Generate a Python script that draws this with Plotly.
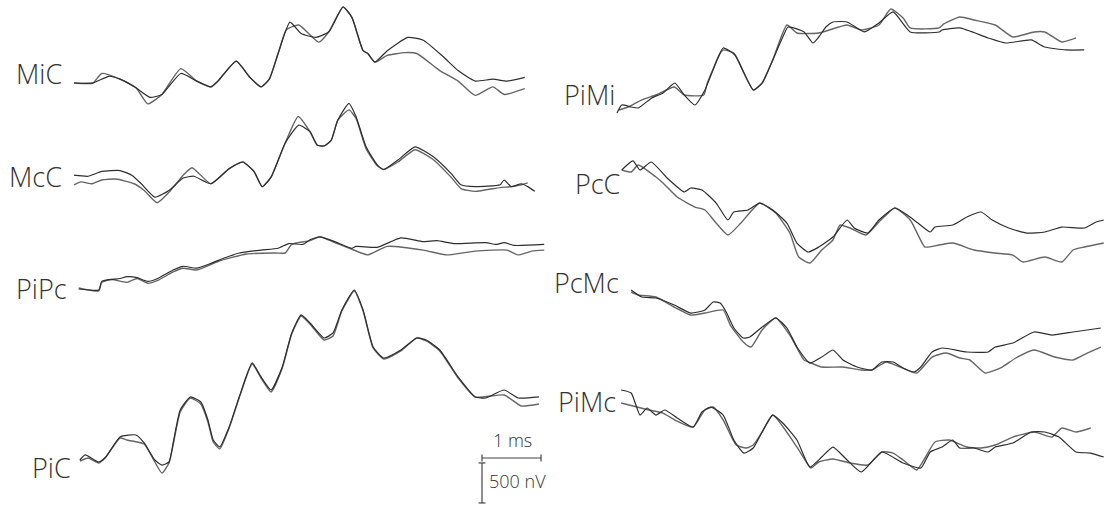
import plotly.graph_objects as go

W, H = 1105, 509
PX_PER_MS = 59.0      # horizontal scale (1 ms bar)
NV_PER_PX = 12.5      # vertical scale (500 nV bar)

# ---------------- data: time (ms) and amplitude (nV) ----------------
mic_t_a = [0, 0.32, 0.59, 0.78, 1.05, 1.29, 1.49, 1.81, 2.08, 2.32, 2.44, 2.75, 2.98, 3.17, 3.31, 3.46, 3.66, 3.85, 4.10, 4.32, 4.56, 4.71, 4.90, 4.98, 5.10, 5.31, 5.66, 5.92, 6.27, 6.51, 6.80, 7.10, 7.34, 7.64]
mic_v_a = [0, 0, 84, 48, -60, -179, -143, 119, 24, -48, 24, 274, 71, -48, 48, 369, 760, 618, 570, 641, 950, 820, 404, 369, 261, 404, 570, 535, 321, 155, 24, 48, 24, 71]
mic_t_b = [0, 0.32, 0.47, 0.78, 1.05, 1.25, 1.49, 1.81, 2.08, 2.32, 2.44, 2.75, 2.98, 3.17, 3.31, 3.46, 3.60, 3.81, 4.15, 4.32, 4.56, 4.71, 4.90, 4.98, 5.10, 5.31, 5.61, 5.81, 6.20, 6.51, 6.80, 7.10, 7.29, 7.64]
mic_v_b = [0, 0, 119, 48, -60, -261, -143, 179, 24, -48, 24, 274, 71, -48, 48, 369, 665, 725, 511, 641, 950, 820, 404, 369, 261, 345, 380, 369, 155, 24, -155, -48, -143, -71]

mcc_t_a = [0, 0.24, 0.47, 0.78, 0.98, 1.14, 1.37, 1.61, 1.85, 2.03, 2.32, 2.63, 2.86, 3.05, 3.19, 3.34, 3.58, 3.81, 4.00, 4.12, 4.24, 4.36, 4.47, 4.66, 4.78, 4.95, 5.14, 5.25, 5.49, 5.78, 6.08, 6.39, 6.56, 6.80, 7.22, 7.29, 7.41, 7.58, 7.69, 7.81]
mcc_v_a = [60, 47, 107, 118, 60, -47, -213, -131, 24, 47, -47, 142, 225, 107, -83, 36, 462, 687, 604, 438, 426, 497, 746, 959, 794, 415, 189, 131, 249, 415, 296, 83, -60, -83, -60, 0, -83, -47, -83, -142]
mcc_t_b = [0, 0.12, 0.31, 0.47, 0.71, 1.02, 1.19, 1.41, 1.61, 1.85, 2.00, 2.32, 2.63, 2.86, 3.05, 3.19, 3.34, 3.58, 3.80, 4.00, 4.12, 4.24, 4.36, 4.47, 4.66, 4.78, 4.95, 5.14, 5.25, 5.49, 5.78, 6.08, 6.39, 6.56, 6.80, 7.22, 7.41, 7.58, 7.69]
mcc_v_b = [-60, -24, -47, 0, 12, -47, -131, -284, -154, 60, 154, -47, 142, 225, 107, -83, 36, 462, 794, 604, 438, 426, 497, 746, 876, 770, 391, 178, 131, 225, 379, 260, 36, -107, -142, -95, -83, -60, -36]

pipc_t_a = [0.08, 0.42, 0.47, 0.59, 0.78, 0.90, 1.07, 1.25, 1.42, 1.68, 1.85, 2.08, 2.32, 2.56, 2.80, 3.17, 3.46, 3.64, 3.88, 4.00, 4.17, 4.42, 4.71, 4.78, 5.14, 5.54, 5.92, 6.15, 6.44, 6.98, 7.15, 7.29, 7.46, 7.97]
pipc_v_a = [0, -12, 95, 118, 131, 154, 142, 95, 131, 237, 284, 260, 320, 391, 450, 486, 509, 568, 557, 616, 652, 592, 509, 533, 521, 639, 592, 604, 568, 580, 557, 580, 545, 557]
pipc_t_b = [0.08, 0.42, 0.47, 0.64, 0.90, 1.07, 1.25, 1.42, 1.68, 1.85, 2.08, 2.44, 2.92, 3.41, 3.58, 3.69, 4.00, 4.17, 4.42, 4.71, 4.98, 5.31, 5.92, 6.32, 6.80, 7.34, 7.53, 7.76, 7.97]
pipc_v_b = [12, -24, 83, 118, 83, 131, 71, 107, 213, 260, 237, 344, 438, 450, 450, 557, 604, 652, 580, 497, 426, 533, 486, 426, 474, 486, 426, 474, 486]

pic_t_a = [0.10, 0.19, 0.42, 0.54, 0.78, 1.05, 1.19, 1.37, 1.49, 1.61, 1.69, 1.80, 1.97, 2.15, 2.27, 2.36, 2.47, 2.63, 2.80, 3.02, 3.17, 3.34, 3.53, 3.69, 3.85, 4.00, 4.24, 4.39, 4.54, 4.75, 4.90, 5.07, 5.25, 5.54, 5.81, 5.97, 6.20, 6.51, 6.80, 6.98, 7.29, 7.53, 7.88]
pic_v_a = [0, 63, -25, 38, 288, 313, 213, 0, -63, -25, 250, 625, 788, 725, 500, 250, 163, 413, 788, 1213, 1038, 875, 1163, 1588, 1813, 1713, 1525, 1588, 1875, 2125, 1875, 1413, 1275, 1375, 1525, 1500, 1375, 1038, 788, 775, 875, 775, 788]
pic_t_b = [0.10, 0.24, 0.42, 0.54, 0.78, 0.90, 1.07, 1.19, 1.37, 1.49, 1.61, 1.69, 1.80, 1.97, 2.15, 2.27, 2.36, 2.47, 2.63, 2.80, 3.02, 3.17, 3.34, 3.53, 3.69, 3.85, 4.00, 4.24, 4.39, 4.54, 4.75, 4.90, 5.07, 5.25, 5.54, 5.81, 5.97, 6.20, 6.51, 6.80, 7.29, 7.58, 7.88]
pic_v_b = [-13, 25, -38, 38, 275, 250, 225, 200, -25, -163, -38, 225, 600, 775, 700, 475, 225, 138, 400, 775, 1200, 1025, 850, 1150, 1575, 1800, 1700, 1500, 1550, 1863, 2113, 1863, 1400, 1263, 1363, 1525, 1488, 1363, 1025, 788, 813, 675, 700]

pimi_t_a = [0, 0.08, 0.24, 0.36, 0.59, 0.78, 0.98, 1.14, 1.32, 1.49, 1.71, 1.80, 2.00, 2.31, 2.46, 2.64, 2.81, 2.90, 3.17, 3.32, 3.42, 3.54, 3.66, 3.90, 4.19, 4.44, 4.68, 4.97, 5.46, 5.51, 5.81, 6.29, 6.59, 7.02, 7.25, 7.61, 7.92]
pimi_v_a = [0, 100, 75, 63, 188, 250, 375, 225, 100, 288, 688, 813, 725, 288, 375, 663, 950, 1075, 1013, 875, 950, 1075, 1138, 1138, 1013, 1125, 1263, 1013, 1013, 1038, 1063, 938, 875, 913, 825, 788, 788]
pimi_t_b = [0.03, 0.19, 0.42, 0.66, 0.97, 1.14, 1.47, 1.53, 1.75, 1.80, 1.98, 2.15, 2.31, 2.46, 2.64, 2.88, 3.05, 3.42, 3.90, 4.14, 4.44, 4.64, 4.85, 4.97, 5.46, 5.54, 5.81, 6.05, 6.41, 6.71, 7.07, 7.25, 7.54, 7.78]
pimi_v_b = [38, 75, 163, 225, 325, 225, 225, 375, 750, 788, 750, 500, 288, 375, 663, 1100, 1000, 1000, 1100, 1038, 1100, 1300, 1188, 1063, 1063, 1113, 1200, 1163, 1100, 950, 1013, 1013, 888, 938]

pcc_t_a = [0.08, 0.27, 0.39, 0.58, 0.85, 1.14, 1.25, 1.44, 1.68, 1.88, 1.98, 2.22, 2.42, 2.64, 2.88, 3.05, 3.24, 3.42, 3.66, 3.90, 4.02, 4.25, 4.44, 4.71, 4.92, 5.10, 5.31, 5.39, 5.69, 5.93, 6.17, 6.36, 6.64, 6.95, 7.25, 7.54, 7.92, 8.12, 8.25]
pcc_v_a = [0, 113, 0, 100, -100, -275, -225, -250, -413, -625, -525, -500, -413, -500, -663, -913, -1025, -963, -838, -625, -725, -788, -625, -475, -563, -663, -775, -713, -688, -588, -525, -625, -725, -788, -775, -713, -725, -650, -625]
pcc_t_b = [0.08, 0.24, 0.36, 0.66, 0.78, 1.02, 1.32, 1.49, 1.68, 1.88, 2.10, 2.42, 2.69, 2.93, 3.08, 3.27, 3.47, 3.66, 3.78, 3.95, 4.22, 4.44, 4.71, 4.97, 5.12, 5.22, 5.46, 5.69, 6.05, 6.41, 6.71, 6.88, 7.25, 7.54, 7.73, 7.92, 8.25]
pcc_v_b = [0, -25, 63, -88, -163, -338, -463, -500, -663, -813, -663, -413, -538, -788, -1088, -1163, -1000, -875, -688, -725, -813, -650, -475, -625, -838, -963, -938, -913, -1000, -1038, -1063, -1150, -1088, -1150, -1000, -963, -913]

pcmc_t_a = [0.24, 0.42, 0.66, 0.97, 1.25, 1.49, 1.63, 1.75, 1.86, 1.98, 2.14, 2.25, 2.46, 2.69, 2.88, 3.05, 3.27, 3.47, 3.66, 3.83, 4.07, 4.32, 4.49, 4.68, 4.85, 5.03, 5.15, 5.34, 5.51, 5.93, 6.29, 6.41, 6.71, 7.07, 7.37, 7.73, 7.97, 8.20]
pcmc_v_a = [0, -88, -100, -188, -288, -250, -150, -163, -288, -475, -600, -588, -463, -350, -475, -713, -913, -838, -750, -875, -963, -1000, -900, -900, -975, -1025, -963, -775, -725, -775, -775, -713, -663, -525, -563, -525, -500, -475]
pcmc_t_b = [0.24, 0.36, 0.66, 0.97, 1.25, 1.49, 1.80, 1.92, 2.14, 2.27, 2.46, 2.69, 2.93, 3.17, 3.29, 3.47, 3.83, 4.14, 4.32, 4.56, 4.80, 5.08, 5.34, 5.58, 5.81, 5.98, 6.24, 6.53, 6.76, 7.07, 7.42, 7.73, 7.97, 8.20]
pcmc_v_b = [-25, -63, -88, -213, -313, -288, -250, -438, -650, -713, -500, -350, -563, -875, -913, -963, -963, -1000, -1000, -900, -963, -1038, -838, -788, -850, -875, -1038, -963, -850, -750, -838, -875, -788, -713]

pimc_t_a = [0.07, 0.24, 0.39, 0.51, 0.66, 0.81, 1.02, 1.29, 1.44, 1.59, 1.80, 1.98, 2.15, 2.31, 2.46, 2.64, 2.81, 3.05, 3.27, 3.47, 3.66, 3.90, 4.14, 4.49, 4.85, 5.15, 5.31, 5.51, 5.69, 5.81, 6.05, 6.29, 6.41, 6.71, 7.02, 7.25, 7.49, 7.78, 8.03, 8.25]
pimc_v_a = [125, 88, -188, -100, -188, -125, -225, -338, -150, -88, -188, -500, -663, -600, -400, -188, -288, -500, -838, -713, -588, -750, -900, -650, -788, -850, -650, -588, -500, -600, -600, -650, -588, -538, -400, -400, -463, -650, -663, -713]
pimc_t_b = [0.07, 0.34, 0.54, 0.78, 0.98, 1.29, 1.49, 1.63, 1.80, 2.02, 2.19, 2.31, 2.46, 2.64, 3.05, 3.29, 3.42, 3.66, 3.95, 4.25, 4.49, 4.68, 4.85, 5.08, 5.22, 5.39, 5.63, 5.93, 6.17, 6.41, 6.71, 7.07, 7.37, 7.54, 7.78, 8.03]
pimc_v_b = [-38, -88, -125, -163, -250, -338, -125, -88, -250, -563, -600, -563, -400, -188, -588, -850, -775, -738, -788, -813, -650, -663, -750, -875, -725, -525, -500, -588, -600, -563, -463, -400, -463, -350, -400, -350]

labels = ["MiC", "McC", "PiPc", "PiC", "PiMi", "PcC", "PcMc", "PiMc"]
series = [
    (mic_t_a, mic_v_a, mic_t_b, mic_v_b),
    (mcc_t_a, mcc_v_a, mcc_t_b, mcc_v_b),
    (pipc_t_a, pipc_v_a, pipc_t_b, pipc_v_b),
    (pic_t_a, pic_v_a, pic_t_b, pic_v_b),
    (pimi_t_a, pimi_v_a, pimi_t_b, pimi_v_b),
    (pcc_t_a, pcc_v_a, pcc_t_b, pcc_v_b),
    (pcmc_t_a, pcmc_v_a, pcmc_t_b, pcmc_v_b),
    (pimc_t_a, pimc_v_a, pimc_t_b, pimc_v_b),
]
scale_ms = 1      # horizontal calibration bar
scale_nv = 500    # vertical calibration bar

# ---------------- layout (pixel positions) ----------------
col_origin_px = [74, 617]                 # pixel x of t = 0 for left/right columns
panel_col = [0, 0, 0, 0, 1, 1, 1, 1]
panel_base_px = [83, 180, 289, 460, 113, 170, 290, 400]
label_pos_px = [(64, 73), (64, 176), (69, 288), (73, 467),
                (617, 95), (622, 183), (621, 282), (618, 401)]
scalebar_px = (482, 458)
vbar_gap_nv = 62

DARK = "#2e2e2e"
GRAY = "#666666"
LABEL_FONT = dict(family="Open Sans", size=27, color="#333", weight=300)
SMALL_FONT = dict(family="Open Sans", size=18, color="#333", weight=300)

fig = go.Figure()

def yname(k):
    return "y" if k == 1 else f"y{k}"

for i, (ta, va, tb, vb) in enumerate(series):
    xa = "x" if panel_col[i] == 0 else "x2"
    ya = yname(i + 1)
    fig.add_trace(go.Scatter(x=tb, y=vb, mode="lines", xaxis=xa, yaxis=ya,
                             line=dict(color=GRAY, width=1.4, shape="spline", smoothing=0.5),
                             hoverinfo="skip"))
    fig.add_trace(go.Scatter(x=ta, y=va, mode="lines", xaxis=xa, yaxis=ya,
                             line=dict(color=DARK, width=1.2, shape="spline", smoothing=0.5),
                             hoverinfo="skip"))

# scale bars on their own y axis (y9), left-column x axis
sb_t0 = (scalebar_px[0] - col_origin_px[0]) / PX_PER_MS
fig.add_trace(go.Scatter(x=[sb_t0, sb_t0 + scale_ms], y=[0, 0], mode="lines+markers",
                         xaxis="x", yaxis="y9",
                         line=dict(color="#444", width=1.2),
                         marker=dict(symbol="line-ns", size=5, line=dict(color="#444", width=1.2)),
                         hoverinfo="skip"))
fig.add_trace(go.Scatter(x=[sb_t0, sb_t0], y=[-vbar_gap_nv, -vbar_gap_nv - scale_nv], mode="lines+markers",
                         xaxis="x", yaxis="y9",
                         line=dict(color="#444", width=1.2),
                         marker=dict(symbol="line-ew", size=5, line=dict(color="#444", width=1.2)),
                         hoverinfo="skip"))

layout = dict(width=W, height=H, margin=dict(l=0, r=0, t=0, b=0),
              paper_bgcolor="white", plot_bgcolor="white", showlegend=False)
layout["xaxis"] = dict(domain=[0, 1], range=[-col_origin_px[0] / PX_PER_MS, (W - col_origin_px[0]) / PX_PER_MS],
                       visible=False, fixedrange=True)
layout["xaxis2"] = dict(domain=[0, 1], overlaying="x", anchor="y",
                        range=[-col_origin_px[1] / PX_PER_MS, (W - col_origin_px[1]) / PX_PER_MS],
                        visible=False, fixedrange=True)
bases = panel_base_px + [scalebar_px[1]]
for k, b in enumerate(bases, start=1):
    ax = dict(domain=[0, 1], range=[-(H - b) * NV_PER_PX, b * NV_PER_PX],
              visible=False, fixedrange=True, anchor="x")
    if k > 1:
        ax["overlaying"] = "y"
    layout["yaxis" if k == 1 else f"yaxis{k}"] = ax
fig.update_layout(**layout)

annots = []
for name, (px, py) in zip(labels, label_pos_px):
    annots.append(dict(text=name, x=px / W, y=1 - py / H, xref="paper", yref="paper",
                       xanchor="right", yanchor="middle", showarrow=False, font=LABEL_FONT))
annots.append(dict(text=f"{scale_ms} ms", x=512 / W, y=1 - 440 / H, xref="paper", yref="paper",
                   xanchor="center", yanchor="middle", showarrow=False, font=SMALL_FONT))
annots.append(dict(text=f"{scale_nv} nV", x=487 / W, y=1 - 481 / H, xref="paper", yref="paper",
                   xanchor="left", yanchor="middle", showarrow=False, font=SMALL_FONT))
fig.update_layout(annotations=annots)

fig.write_html("out.html", config={"displayModeBar": False})
